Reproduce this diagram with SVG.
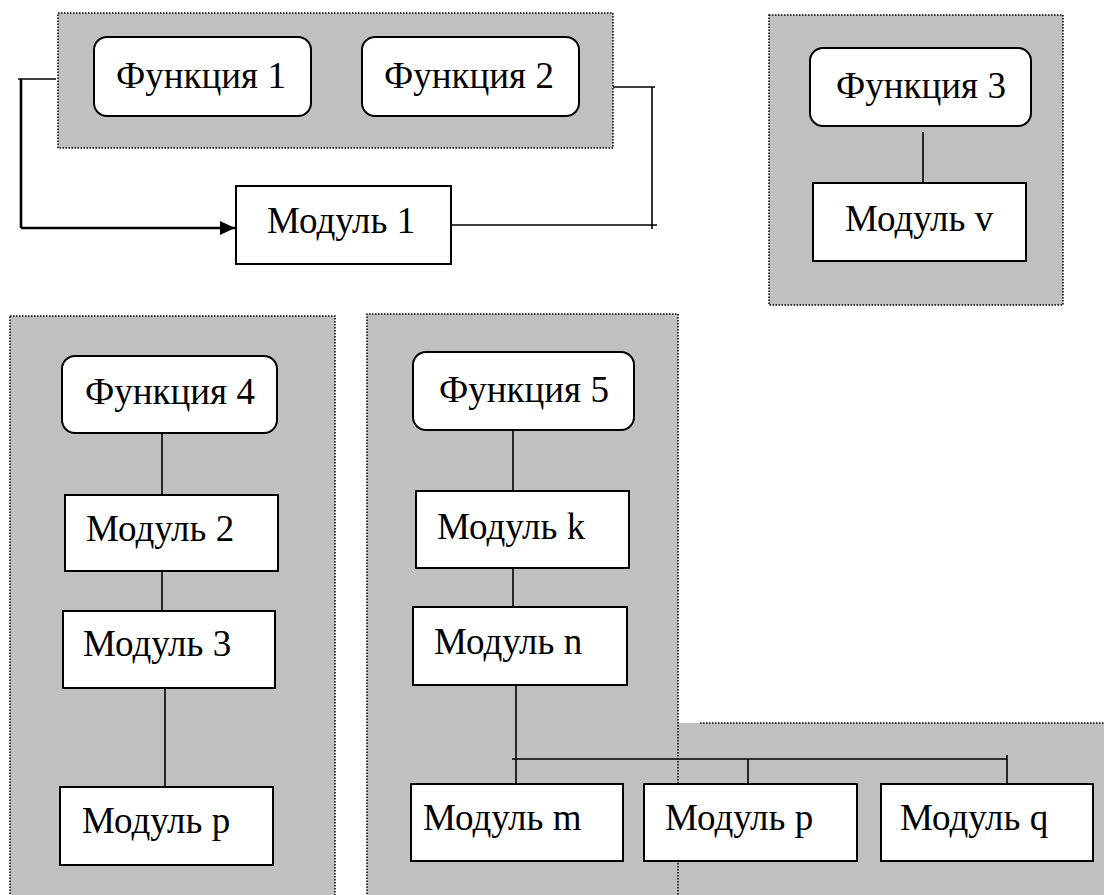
<svg xmlns="http://www.w3.org/2000/svg" width="1104" height="895" viewBox="0 0 1104 895">
  <defs>
    <style>
      .panel { fill: #c0c0c0; }
      .dot { fill: none; stroke: #000; stroke-width: 1.5; stroke-dasharray: 1.5 1.5; }
      .func { fill: #fff; stroke: #000; stroke-width: 2; }
      .mod { fill: #fff; stroke: #000; stroke-width: 2; }
      .lbl { font-family: 'Liberation Serif', 'DejaVu Serif', serif; font-size: 37px; fill: #000; }
      .wire { fill: none; stroke: #000; stroke-width: 1.6; }
      .wire-bold { fill: none; stroke: #000; stroke-width: 2.6; }
    </style>
    <marker id="arrow" markerWidth="16" markerHeight="14" refX="15" refY="7" orient="auto" markerUnits="userSpaceOnUse">
      <path d="M0,0 L15,7 L0,14 Z" fill="#000"/>
    </marker>
  </defs>

  <rect width="1104" height="895" fill="#fff"/>

  <!-- shaded groupings -->
  <g id="panels">
    <rect class="panel" x="58" y="13" width="555" height="135"/>
    <rect class="dot" x="58" y="13" width="555" height="135"/>
    <rect class="panel" x="769" y="15" width="294" height="290"/>
    <rect class="dot" x="769" y="15" width="294" height="290"/>
    <rect class="panel" x="10" y="316" width="325" height="585"/>
    <rect class="dot" x="10" y="316" width="325" height="585"/>
    <rect class="panel" x="672" y="723" width="440" height="180"/>
    <line class="dot" x1="700" y1="723" x2="1104" y2="723"/>
    <rect class="panel" x="367" y="314" width="311" height="590"/>
    <path class="dot" d="M367,900 V314 H678 V900"/>
  </g>

  <!-- connectors -->
  <g id="connectors">
    <path class="wire" d="M18,79 H56"/>
    <path class="wire-bold" d="M21,79 V228"/>
    <path class="wire-bold" d="M21,228 H235" marker-end="url(#arrow)"/>
    <path class="wire" d="M613,87 H655"/>
    <path class="wire" d="M652,87 V229"/>
    <path class="wire" d="M451,225 H657"/>
    <path class="wire" d="M923,132 V193"/>
    <path class="wire" d="M162,433 V495"/>
    <path class="wire" d="M162,568 V614"/>
    <path class="wire" d="M165,688 V790"/>
    <path class="wire" d="M513,430 V491"/>
    <path class="wire" d="M513,566 V610"/>
    <path class="wire" d="M516,685 V787"/>
    <path class="wire" d="M512,759 H1007"/>
    <path class="wire" d="M748,759 V787"/>
    <path class="wire" d="M1007,755 V785"/>
  </g>

  <g id="func1">
    <rect class="func" x="94" y="37" width="217" height="79" rx="13"/>
    <text class="lbl" x="116" y="88">Функция 1</text>
  </g>
  <g id="func2">
    <rect class="func" x="362" y="37" width="217" height="79" rx="13"/>
    <text class="lbl" x="384" y="88">Функция 2</text>
  </g>
  <g id="mod1">
    <rect class="mod" x="236" y="186" width="215" height="78"/>
    <text class="lbl" x="267" y="233">Модуль 1</text>
  </g>

  <g id="func3">
    <rect class="func" x="810" y="48" width="221" height="78" rx="13"/>
    <text class="lbl" x="836" y="98">Функция 3</text>
  </g>
  <g id="modv">
    <rect class="mod" x="813" y="183" width="213" height="78"/>
    <text class="lbl" x="845" y="231">Модуль v</text>
  </g>

  <g id="func4">
    <rect class="func" x="62" y="356" width="215" height="77" rx="13"/>
    <text class="lbl" x="85" y="404">Функция 4</text>
  </g>
  <g id="mod2">
    <rect class="mod" x="65" y="495" width="213" height="76"/>
    <text class="lbl" x="86" y="541">Модуль 2</text>
  </g>
  <g id="mod3">
    <rect class="mod" x="63" y="611" width="212" height="77"/>
    <text class="lbl" x="83" y="656">Модуль 3</text>
  </g>
  <g id="modp-left">
    <rect class="mod" x="60" y="787" width="213" height="78"/>
    <text class="lbl" x="82" y="833">Модуль р</text>
  </g>

  <g id="func5">
    <rect class="func" x="413" y="352" width="221" height="78" rx="13"/>
    <text class="lbl" x="439" y="402">Функция 5</text>
  </g>
  <g id="modk">
    <rect class="mod" x="416" y="491" width="213" height="77"/>
    <text class="lbl" x="437" y="539">Модуль k</text>
  </g>
  <g id="modn">
    <rect class="mod" x="413" y="607" width="214" height="78"/>
    <text class="lbl" x="434" y="654">Модуль n</text>
  </g>
  <g id="modm">
    <rect class="mod" x="411" y="784" width="212" height="77"/>
    <text class="lbl" x="423" y="830">Модуль m</text>
  </g>
  <g id="modp-right">
    <rect class="mod" x="644" y="784" width="213" height="77"/>
    <text class="lbl" x="665" y="830">Модуль р</text>
  </g>
  <g id="modq">
    <rect class="mod" x="881" y="784" width="212" height="77"/>
    <text class="lbl" x="900" y="830">Модуль q</text>
  </g>
</svg>
